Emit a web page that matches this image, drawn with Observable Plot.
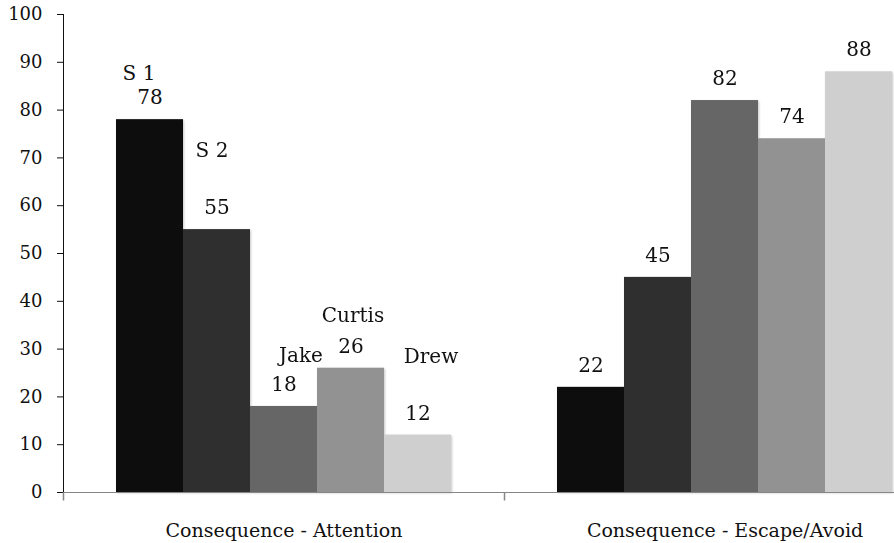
<!DOCTYPE html>
<html>
<head>
<meta charset="utf-8">
<script src="https://cdn.jsdelivr.net/npm/d3@7"></script>
<script src="https://cdn.jsdelivr.net/npm/@observablehq/plot@0.6"></script>
<style>
  body { margin: 0; background: #fff; }
  #chart { width: 894px; height: 543px; overflow: hidden; }
  #chart svg { font-family: "DejaVu Serif", serif; max-width: none !important; }
</style>
</head>
<body>
<div id="chart"></div>
<script>
// Percent of intervals per consequence condition, one bar per participant
const categories = ["Consequence - Attention", "Consequence - Escape/Avoid"];
const seriesNames = ["S 1", "S 2", "Jake", "Curtis", "Drew"];
const attentionValues = [78, 55, 18, 26, 12];
const escapeAvoidValues = [22, 45, 82, 74, 88];
const yTicks = [0, 10, 20, 30, 40, 50, 60, 70, 80, 90, 100];

// Grey ramp, darkest to lightest
const barColors = ["#0d0d0d", "#2f2f2f", "#666666", "#929292", "#cfcfcf"];
const axisGrey = "#868686";

// Hand-placed participant name labels in the first group: [dx, dy] from the bar top
const nameNudges = [[-11, -46], [-5, -79], [17, -51], [2, -53], [13, -79]];

const valuesByCategory = [attentionValues, escapeAvoidValues];
const rows = categories.flatMap((category, i) =>
  seriesNames.map((series, j) => ({category, series, value: valuesByCategory[i][j]}))
);

// Short tick below the baseline at the left edge of each category band
const downTick = {draw(context) { context.moveTo(0, 0); context.lineTo(0, 8); }};

const nameLabels = seriesNames.map((name, j) =>
  Plot.text(rows.filter(d => d.category === categories[0] && d.series === name), {
    fx: "category", x: "series", y: "value", text: "series",
    dx: nameNudges[j][0], dy: nameNudges[j][1],
    fontSize: 20, fill: "#111"
  })
);

const chart = Plot.plot({
  width: 945,
  height: 543,
  marginLeft: 63,
  marginRight: 0,
  marginTop: 14,
  marginBottom: 51,
  style: {fontFamily: "DejaVu Serif, serif", color: "#111", background: "#fff", maxWidth: "none"},
  fx: {domain: categories, padding: 0, label: null, tickSize: 0, tickPadding: 31, axis: "bottom"},
  x: {domain: seriesNames, paddingInner: 0, paddingOuter: 0.75, axis: null},
  y: {domain: [0, 100], ticks: yTicks, label: null, tickSize: 6, tickPadding: 15, line: true},
  color: {domain: seriesNames, range: barColors},
  marks: [
    Plot.barY(rows, {fx: "category", x: "series", y: "value", fill: "series"}),
    Plot.ruleY([0], {stroke: axisGrey}),
    Plot.dot(categories, {fx: d => d, frameAnchor: "bottom-left", symbol: downTick, stroke: axisGrey, fill: "none"}),
    Plot.text(rows, {fx: "category", x: "series", y: "value", text: "value", dy: -22, fontSize: 20, fill: "#111"}),
    ...nameLabels
  ]
});

const svg = d3.select(chart);
svg.style("max-width", "none");
svg.selectAll('g[aria-label="y-axis tick"], g[aria-label="y-axis line"]').attr("stroke", axisGrey);
svg.selectAll('g[aria-label="y-axis tick label"]').attr("font-size", 18);
svg.selectAll('g[aria-label="fx-axis tick label"]').attr("font-size", 19);
svg.selectAll('g[aria-label="bar"]').style("filter", "drop-shadow(1.5px 1.5px 1.2px rgba(0,0,0,0.22))");
document.getElementById("chart").appendChild(chart);
</script>
</body>
</html>
